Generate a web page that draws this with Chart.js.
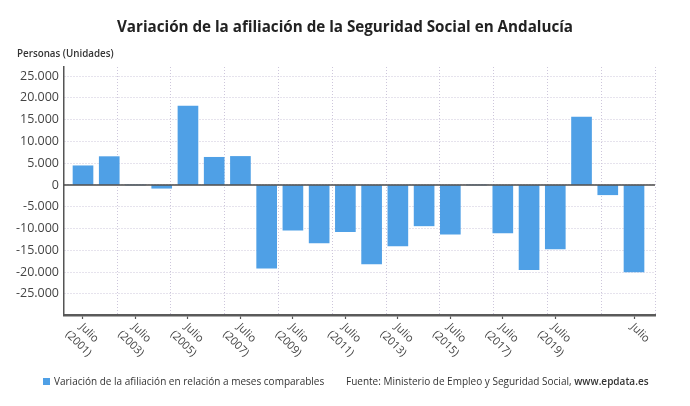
<!DOCTYPE html>
<html>
<head>
<meta charset="utf-8">
<script src="https://cdn.jsdelivr.net/npm/chart.js@4/dist/chart.umd.min.js"></script>
<style>
  html, body { margin:0; padding:0; background:#fff; }
  #wrap { position:relative; width:690px; height:406px; overflow:hidden; font-family:"Open Sans", sans-serif; }
  #title { position:absolute; left:0; width:690px; top:16px; text-align:center; font-size:15.2px; font-weight:700; color:#222; }
  #unit { position:absolute; left:17px; top:47px; font-size:9.8px; font-weight:600; color:#333; }
  #legend { position:absolute; left:43px; top:374px; font-size:10px; color:#333; white-space:nowrap; }
  #legend .sw { display:inline-block; width:7px; height:7px; background:#4fa0e6; margin-right:4px; vertical-align:0px; }
  #source { position:absolute; left:346px; top:374px; font-size:10px; color:#333; white-space:nowrap; }
  #source b { font-weight:600; }
  canvas { position:absolute; left:0; top:0; }
</style>
</head>
<body>
<div id="wrap">
  <canvas id="c" width="690" height="406"></canvas>
  <div id="title">Variación de la afiliación de la Seguridad Social en Andalucía</div>
  <div id="unit">Personas (Unidades)</div>
  <div id="legend"><span class="sw"></span>Variación de la afiliación en relación a meses comparables</div>
  <div id="source">Fuente: Ministerio de Empleo y Seguridad Social, <b>www.epdata.es</b></div>
</div>
<script>
// ---- data ----
const years = [2001,2002,2003,2004,2005,2006,2007,2008,2009,2010,2011,2012,2013,2014,2015,2016,2017,2018,2019,2020,2021,2022];
const values = [4400,6500,0,-750,18100,6350,6550,-19100,-10400,-13300,-10700,-18100,-14000,-9380,-11300,0,-11000,-19450,-14700,15600,-2250,-19950];
const tickIndex = [0,2,4,6,8,10,12,14,16,18,21];
const tickLabels = [['Julio','(2001)'],['Julio','(2003)'],['Julio','(2005)'],['Julio','(2007)'],['Julio','(2009)'],['Julio','(2011)'],['Julio','(2013)'],['Julio','(2015)'],['Julio','(2017)'],['Julio','(2019)'],['Julio']];
const yTicks = [-25000,-20000,-15000,-10000,-5000,0,5000,10000,15000,20000,25000];
const vGrid = [1.30,3.35,5.40,7.45,9.50,11.55,13.60,15.65,17.70,19.75,21.80];

const X_MIN = -0.724, X_MAX = 21.8;

function fmt(v){
  const s = Math.abs(v).toString().replace(/\B(?=(\d{3})+(?!\d))/g, '.');
  return (v < 0 ? '-' : '') + s;
}

const zeroLine = {
  id:'zeroLine',
  afterDatasetsDraw(chart){
    const {ctx, chartArea, scales} = chart;
    const y = scales.y.getPixelForValue(0);
    ctx.save();
    ctx.strokeStyle = '#4a4a4a';
    ctx.lineWidth = 1.5;
    ctx.beginPath();
    ctx.moveTo(chartArea.left, y);
    ctx.lineTo(chartArea.right, y);
    ctx.stroke();
    ctx.restore();
  }
};

const xLabels = {
  id:'xLabels',
  afterDraw(chart){
    const {ctx, chartArea, scales} = chart;
    ctx.save();
    ctx.fillStyle = '#444';
    ctx.font = '11px "Open Sans", sans-serif';
    ctx.textAlign = 'center';
    ctx.textBaseline = 'middle';
    tickIndex.forEach((idx, i) => {
      const x = scales.x.getPixelForValue(idx);
      ctx.save();
      ctx.translate(x + 6, chartArea.bottom + 18);
      ctx.rotate(Math.PI / 4);
      tickLabels[i].forEach((line, j) => ctx.fillText(line, 0, j * 15));
      ctx.restore();
    });
    ctx.restore();
  }
};

new Chart(document.getElementById('c'), {
  type:'bar',
  data:{
    datasets:[{
      label:'Variación de la afiliación en relación a meses comparables',
      data: years.map((yr, i) => ({x:i, y:values[i]})),
      backgroundColor:'#4fa0e6',
      borderWidth:0,
      barThickness:20
    }]
  },
  options:{
    responsive:false,
    animation:false,
    events:[],
    layout:{ padding:{ left:0, right:35, top:67, bottom:0 } },
    plugins:{ legend:{display:false}, title:{display:false}, tooltip:{enabled:false} },
    scales:{
      x:{
        type:'linear',
        position:'bottom',
        offset:false,
        min:X_MIN, max:X_MAX,
        afterBuildTicks(s){ s.ticks = tickIndex.map(v => ({value:v})); },
        afterFit(s){ s.height = 91; },
        ticks:{ display:false },
        grid:{ offset:false, drawOnChartArea:false, drawTicks:true, tickLength:4, tickColor:'#555', tickWidth:1.2 },
        border:{ display:true, color:'#5a5a5a', width:2.5 }
      },
      xg:{
        type:'linear',
        position:'bottom',
        offset:false,
        min:X_MIN, max:X_MAX,
        afterBuildTicks(s){ s.ticks = vGrid.map(v => ({value:v})); },
        afterFit(s){ s.height = 0; },
        ticks:{ display:false },
        grid:{ offset:false, drawOnChartArea:true, drawTicks:false, color:'#cdc6db', lineWidth:1 },
        border:{ display:false, dash:[1,2] }
      },
      y:{
        min:-29840, max:27070,
        afterBuildTicks(s){ s.ticks = yTicks.map(v => ({value:v})); },
        afterFit(s){ s.width = 64; },
        ticks:{ callback:(v) => fmt(v), color:'#444', font:{ family:'"Open Sans", sans-serif', size:12.5 }, padding:5 },
        grid:{ color:'#cdc6db', lineWidth:1, drawTicks:false },
        border:{ display:true, color:'#555', width:1.5, dash:[1,2] }
      }
    }
  },
  plugins:[zeroLine, xLabels]
});
</script>
</body>
</html>
